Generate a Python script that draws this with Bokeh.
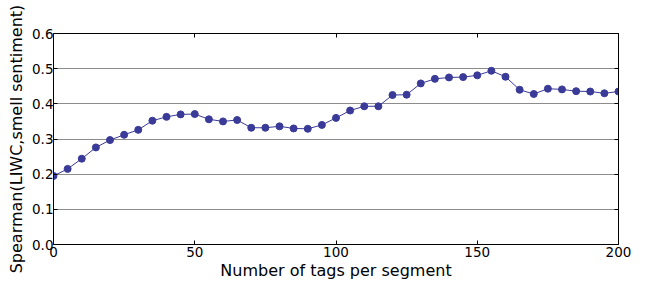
from bokeh.plotting import figure
from bokeh.models import LinearAxis, FixedTicker, Range1d, ColumnDataSource, CustomJSTickFormatter
from bokeh.embed import file_html
from bokeh.resources import INLINE

tags = [0, 5, 10, 15, 20, 25, 30, 35, 40, 45, 50, 55, 60, 65, 70, 75, 80, 85, 90, 95,
        100, 105, 110, 115, 120, 125, 130, 135, 140, 145, 150, 155, 160, 165, 170, 175,
        180, 185, 190, 195, 200]
spearman = [0.195, 0.215, 0.244, 0.276, 0.297, 0.312, 0.326, 0.352, 0.363, 0.370, 0.371,
            0.356, 0.350, 0.354, 0.332, 0.332, 0.336, 0.330, 0.329, 0.340,
            0.360, 0.381, 0.393, 0.393, 0.425, 0.426, 0.458, 0.471, 0.475, 0.476, 0.481,
            0.494, 0.477, 0.440, 0.428, 0.443, 0.441, 0.436, 0.435, 0.430, 0.435]
x_ticks = [0, 50, 100, 150, 200]
y_ticks = [0.0, 0.1, 0.2, 0.3, 0.4, 0.5, 0.6]

FONT = "DejaVu Sans"
COLOR = "#3a3a98"

p = figure(width=647, height=282, output_backend="svg", toolbar_location=None,
           x_range=Range1d(0, 200), y_range=Range1d(0, 0.6),
           min_border_left=53, min_border_right=29, min_border_top=33, min_border_bottom=37,
           x_axis_label="Number of tags per segment",
           y_axis_label="Spearman(LIWC,smell sentiment)")
p.background_fill_color = "white"
p.border_fill_color = "white"
p.outline_line_color = "black"
p.outline_line_width = 1

src = ColumnDataSource(dict(x=tags, y=spearman))
p.line("x", "y", source=src, line_color=COLOR, line_width=1)
p.scatter("x", "y", source=src, size=7, fill_color=COLOR, line_color=COLOR)

p.xgrid.visible = False
p.ygrid.grid_line_color = "#8c8c8c"
p.ygrid.grid_line_width = 1
p.ygrid.ticker = FixedTicker(ticks=y_ticks)

for ax in p.xaxis:
    ax.ticker = FixedTicker(ticks=x_ticks)
for ax in p.yaxis:
    ax.ticker = FixedTicker(ticks=y_ticks)
p.yaxis.formatter = CustomJSTickFormatter(code="return tick.toFixed(1);")

for ax in list(p.xaxis) + list(p.yaxis):
    ax.major_tick_in = 4
    ax.major_tick_out = 0
    ax.minor_tick_in = 0
    ax.minor_tick_out = 0
    ax.axis_line_color = "black"
    ax.major_tick_line_color = "black"
    ax.major_label_text_font = FONT
    ax.major_label_text_font_size = "13.5px"
    ax.major_label_text_color = "black"
    ax.axis_label_text_font = FONT
    ax.axis_label_text_font_size = "16px"
    ax.axis_label_text_font_style = "normal"
    ax.axis_label_text_color = "black"
    ax.major_label_standoff = 2

p.yaxis.major_label_standoff = 0
p.xaxis.axis_label_standoff = 1
p.yaxis.axis_label_standoff = 3

top = LinearAxis(ticker=FixedTicker(ticks=x_ticks), major_label_text_color=None,
                 major_tick_in=4, major_tick_out=0, minor_tick_in=0, minor_tick_out=0,
                 axis_line_color="black", major_label_standoff=0)
right = LinearAxis(ticker=FixedTicker(ticks=y_ticks), major_label_text_color=None,
                   major_tick_in=4, major_tick_out=0, minor_tick_in=0, minor_tick_out=0,
                   axis_line_color="black", major_label_standoff=0)
p.add_layout(top, "above")
p.add_layout(right, "right")

open("out.html", "w").write(file_html(p, INLINE))
